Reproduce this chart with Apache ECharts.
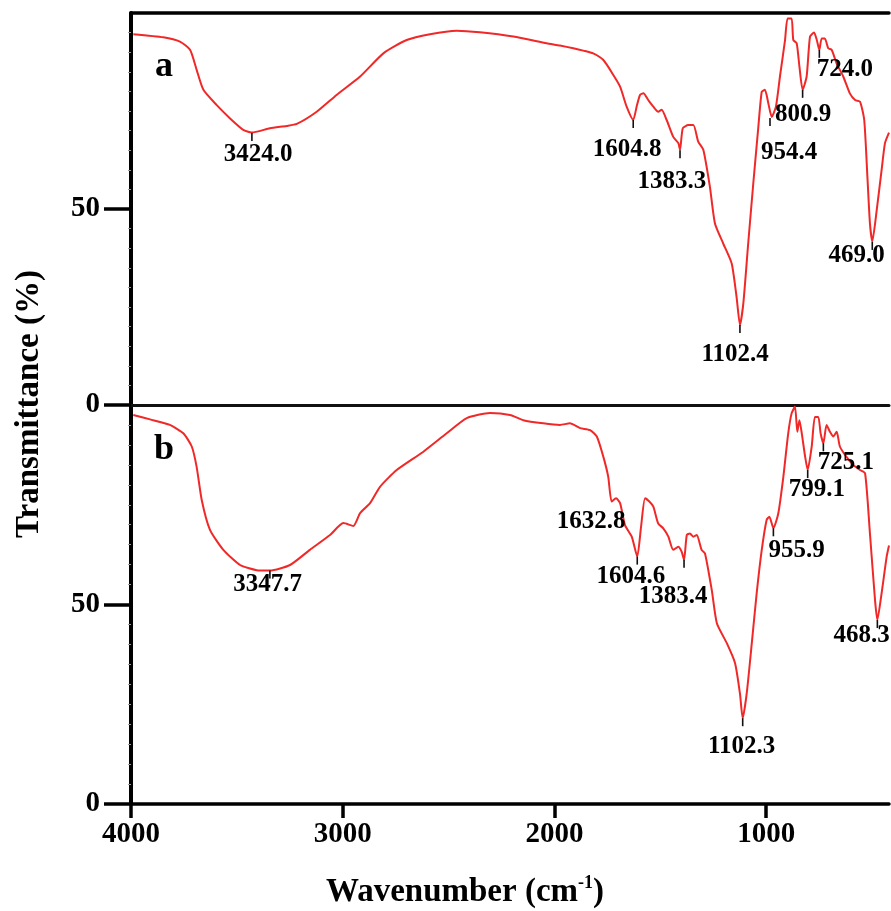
<!DOCTYPE html>
<html>
<head>
<meta charset="utf-8">
<script src="https://cdn.jsdelivr.net/npm/echarts/dist/echarts.min.js"></script>
<style>html,body{margin:0;padding:0;background:#fff}#c{width:891px;height:911px}</style>
</head>
<body>
<div id="c"></div>
<script>
// ---------- DATA ----------
const xTicks = [4000, 3000, 2000, 1000];
const yTicks = [0, 50];

// Spectrum a
const waveA = [3989,3847,3769,3721,3690,3658,3595,3532,3470,3430,3344,3265,3217,3123,3029,2918,2808,2698,2588,2462,2352,2194,2037,1974,1911,1864,1817,1769,1722,1690,1659,1628,1612,1596,1580,1557,1533,1510,1494,1470,1439,1415,1407,1394,1368,1344,1321,1297,1266,1242,1203,1163,1140,1124,1108,1085,1061,1037,1021,1006,990,974,954,935,911,899,880,872,856,843,828,809,793,774,761,749,738,723,707,691,667,636,605,580,557,537,522,510,499,478,455,439,420];
const transA = [94.6,93.8,92.7,90.6,85.5,80.4,76.5,73.1,70.2,69.5,70.6,71.2,71.7,74.8,79.1,83.8,89.7,93.1,94.6,95.5,95.1,94.0,92.3,91.7,91.0,90.4,89.7,88.0,84.2,81.2,76.1,72.7,76.1,79.1,79.5,77.8,76.1,74.8,75.3,72.7,68.4,66.8,65.1,70.6,71.4,71.4,67.2,65.1,55.7,46.3,41.2,36.1,27.6,20.4,25.9,41.2,56.5,71.0,79.9,80.4,77.0,73.5,76.1,83.8,93.1,98.6,98.6,93.1,92.3,86.3,80.4,83.8,94.0,95.0,93.1,90.6,93.5,93.5,91.0,90.6,87.1,83.8,79.5,77.8,77.4,72.7,58.2,46.3,41.7,49.7,59.9,66.8,69.5];

// Spectrum b
const waveB = [3989,3910,3816,3753,3713,3690,3666,3627,3564,3485,3406,3344,3249,3155,3060,2997,2950,2918,2871,2824,2745,2619,2509,2414,2304,2210,2147,2053,1974,1927,1879,1832,1800,1769,1746,1730,1709,1690,1667,1635,1609,1591,1572,1552,1533,1510,1486,1462,1439,1415,1399,1388,1375,1360,1344,1328,1305,1289,1257,1233,1186,1147,1124,1111,1092,1068,1045,1021,998,985,966,943,919,896,880,864,853,843,832,816,804,785,770,754,743,730,715,699,683,667,652,621,589,557,533,510,486,475,455,431,420];
const transB = [97.5,96.4,95.0,92.9,89.6,84.5,76.2,68.7,63.7,59.9,58.6,58.5,59.9,63.7,67.4,70.4,69.7,72.9,75.4,79.5,83.7,88.3,92.9,96.7,98.0,97.5,96.2,95.4,95.0,95.4,94.2,93.7,92.1,87.0,82.0,75.8,76.6,75.4,69.9,67.0,62.0,69.5,76.6,75.8,74.5,70.3,69.1,67.0,63.7,64.5,63.2,61.2,67.4,67.8,67.0,67.4,63.7,62.8,53.6,45.3,40.3,35.3,27.7,21.5,27.7,40.3,52.8,63.7,71.2,72.0,69.1,72.8,82.0,92.9,97.9,99.6,93.3,96.2,92.9,87.0,83.7,89.6,97.0,97.0,92.9,90.4,95.0,93.3,92.1,93.3,89.6,87.0,85.0,83.7,82.9,67.8,51.1,46.1,52.8,62.0,64.8];

// Peak annotations: text, label position (wavenumber, T), tick position (wavenumber, T)
const peakTextA  = ['3424.0','1604.8','1383.3','1102.4','954.4','800.9','724.0','469.0'];
const peakLabWA  = [3400, 1657, 1446, 1147, 892, 826, 628, 573];
const peakLabTA  = [64.0, 65.1, 57.0, 12.8, 64.3, 74.0, 85.7, 38.0];
const peakTickWA = [3429, 1628, 1407, 1124, 982, 828, 749, 499];
const peakTickTA = [69.4, 72.7, 65.0, 20.4, 73.2, 80.4, 90.6, 41.6];

const peakTextB  = ['3347.7','1632.8','1604.6','1383.4','1102.3','955.9','799.1','725.1','468.3'];
const peakLabWB  = [3355, 1827, 1639, 1440, 1116, 856, 761, 624, 549];
const peakLabTB  = [54.9, 70.7, 57.0, 52.1, 14.5, 63.4, 78.9, 85.6, 42.1];
const peakTickWB = [3344, 1609, 1388, 1111, 966, 804, 730, 475];
const peakTickTB = [58.5, 62.0, 61.2, 21.5, 69.1, 83.7, 90.4, 46.1];

// ---------- CHART ----------
const FONT = "'Liberation Serif','Times New Roman',serif";
const RED = '#f02828';
const zip = (a, b) => a.map((v, i) => [v, b[i]]);
const labels = (t, w, v) => t.map((s, i) => ({ name: s, value: [w[i], v[i]] }));

const xBase = {
  type: 'value', min: 420, max: 4000, inverse: true,
  splitLine: { show: false },
  axisLine: { lineStyle: { color: '#000', width: 3.5 } },
  axisTick: { show: false }, axisLabel: { show: false }
};
const yBase = gi => ({
  type: 'value', gridIndex: gi, min: 0, max: 100, interval: 50,
  splitLine: { show: false },
  axisLine: { show: true, lineStyle: { color: '#000', width: 4 } },
  axisTick: { show: true, customValues: yTicks, length: 27, lineStyle: { color: '#000', width: 3.5 } },
  minorTick: { show: true, splitNumber: 10, length: 3, lineStyle: { color: '#999', width: 1 } },
  axisLabel: { customValues: yTicks, margin: 31, fontSize: 29, fontWeight: 'bold', color: '#000', fontFamily: FONT,
               formatter: v => String(v) }
});

const labelSeries = (data, xi, yi) => ({
  type: 'scatter', xAxisIndex: xi, yAxisIndex: yi, symbolSize: 0, silent: true, z: 5,
  itemStyle: { opacity: 1 },
  data,
  label: { show: true, position: 'inside', formatter: '{b}', fontSize: 25, fontWeight: 'bold', color: '#000',
           opacity: 1, textBorderWidth: 0, fontFamily: FONT }
});
const tickSeries = (data, xi, yi) => ({
  type: 'scatter', xAxisIndex: xi, yAxisIndex: yi, symbol: 'rect', symbolSize: [1.6, 8], symbolOffset: [0, 4],
  itemStyle: { color: '#111', opacity: 1 }, silent: true, z: 4, data
});

const option = {
  animation: false,
  backgroundColor: '#fff',
  grid: [
    { left: 131, right: 2, top: 13, height: 392 },
    { left: 131, right: 2, top: 405, height: 399 }
  ],
  xAxis: [
    Object.assign({}, xBase, { gridIndex: 0, position: 'bottom', axisLine: { lineStyle: { color: '#111', width: 3 } } }),
    Object.assign({}, xBase, { gridIndex: 0, position: 'top' }),
    Object.assign({}, xBase, {
      gridIndex: 1, position: 'bottom',
      axisTick: { show: true, customValues: xTicks, length: 14, lineStyle: { color: '#000', width: 3.5 } },
      axisLabel: { show: true, customValues: xTicks, margin: 16, fontSize: 29, fontWeight: 'bold', color: '#000', fontFamily: FONT,
                   formatter: v => String(v) }
    })
  ],
  yAxis: [yBase(0), yBase(1)],
  series: [
    { type: 'line', xAxisIndex: 0, yAxisIndex: 0, data: zip(waveA, transA), showSymbol: false, smooth: 0.2,
      lineStyle: { color: RED, width: 2 }, z: 3 },
    { type: 'line', xAxisIndex: 2, yAxisIndex: 1, data: zip(waveB, transB), showSymbol: false, smooth: 0.2,
      lineStyle: { color: RED, width: 2 }, z: 3 },
    labelSeries(labels(peakTextA, peakLabWA, peakLabTA), 0, 0),
    labelSeries(labels(peakTextB, peakLabWB, peakLabTB), 2, 1),
    tickSeries(zip(peakTickWA, peakTickTA), 0, 0),
    tickSeries(zip(peakTickWB, peakTickTB), 2, 1)
  ],
  graphic: [
    { type: 'text', x: 164, y: 67, style: { text: 'a', font: 'bold 36px ' + FONT, fill: '#000', textAlign: 'center', textVerticalAlign: 'middle' } },
    { type: 'text', x: 164, y: 450, style: { text: 'b', font: 'bold 36px ' + FONT, fill: '#000', textAlign: 'center', textVerticalAlign: 'middle' } },
    { type: 'text', x: 29, y: 404, rotation: Math.PI / 2,
      style: { text: 'Transmittance (%)', font: 'bold 33px ' + FONT, fill: '#000', textAlign: 'center', textVerticalAlign: 'middle' } },
    { type: 'text', x: 465, y: 892,
      style: {
        text: '{t|Wavenumber (cm}{s|-1}{t|)}', textAlign: 'center', textVerticalAlign: 'middle',
        rich: {
          t: { fontSize: 33, fontWeight: 'bold', fontFamily: FONT, fill: '#000', color: '#000', lineHeight: 38 },
          s: { fontSize: 18, fontWeight: 'bold', fontFamily: FONT, fill: '#000', color: '#000', lineHeight: 38, padding: [0, 0, 18, 0] }
        }
      } }
  ]
};
echarts.init(document.getElementById('c'), null, { renderer: 'canvas' }).setOption(option);
</script>
</body>
</html>
